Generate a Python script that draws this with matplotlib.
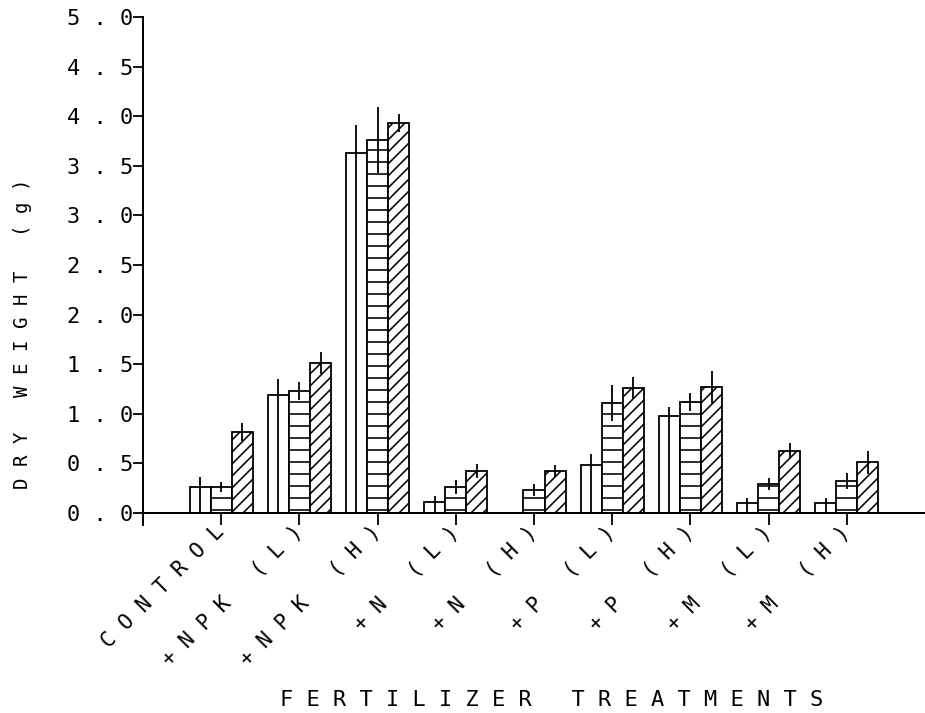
import numpy as np
import matplotlib
matplotlib.use("Agg")
import matplotlib.pyplot as plt

categories = ["CONTROL", "+NPK (L)", "+NPK (H)", "+N (L)", "+N (H)",
              "+P (L)", "+P (H)", "+M (L)", "+M (H)"]
open_vals = [0.26, 1.19, 3.63, 0.11, 0.0, 0.48, 0.98, 0.10, 0.10]
open_err = [0.10, 0.16, 0.28, 0.06, 0.0, 0.12, 0.09, 0.05, 0.05]
horiz_vals = [0.26, 1.23, 3.76, 0.26, 0.23, 1.11, 1.12, 0.29, 0.32]
horiz_err = [0.05, 0.09, 0.33, 0.07, 0.06, 0.18, 0.09, 0.06, 0.08]
diag_vals = [0.82, 1.51, 3.93, 0.42, 0.42, 1.26, 1.27, 0.63, 0.51]
diag_err = [0.09, 0.11, 0.09, 0.07, 0.06, 0.11, 0.16, 0.08, 0.12]
yticks = [0.0, 0.5, 1.0, 1.5, 2.0, 2.5, 3.0, 3.5, 4.0, 4.5, 5.0]
xlabel = "FERTILIZER TREATMENTS"
ylabel = "DRY WEIGHT (g)"


def spaced(s):
    return " ".join(s)


plt.rcParams["hatch.linewidth"] = 1.6
plt.rcParams["hatch.color"] = "black"
MONO = "DejaVu Sans Mono"

DPI = 72
fig = plt.figure(figsize=(925 / DPI, 713 / DPI), dpi=DPI)
ax = fig.add_axes([143 / 925, 188 / 713, 782 / 925, 508 / 713])

x = np.arange(len(categories))
w = 0.27
lw = 1.8

ax.bar(x - w, open_vals, w, facecolor="white", edgecolor="black", linewidth=lw, zorder=2)
ax.bar(x, horiz_vals, w, facecolor="white", edgecolor="black", linewidth=lw,
       hatch="-", zorder=2)
ax.bar(x + w, diag_vals, w, facecolor="white", edgecolor="black", linewidth=lw,
       hatch="//", zorder=2)

ov = np.array(open_vals)
oe = np.array(open_err)
ax.errorbar(x - w, ov, yerr=[ov, oe], fmt="none", ecolor="black",
            elinewidth=1.8, capsize=0, zorder=3)
ax.errorbar(x, horiz_vals, yerr=horiz_err, fmt="none", ecolor="black",
            elinewidth=1.8, capsize=0, zorder=3)
ax.errorbar(x + w, diag_vals, yerr=diag_err, fmt="none", ecolor="black",
            elinewidth=1.8, capsize=0, zorder=3)

ax.set_xlim(-1, 9)
ax.set_ylim(-0.12, 5.0)

for s in ["top", "right"]:
    ax.spines[s].set_visible(False)
ax.spines["bottom"].set_position(("data", 0))
ax.spines["bottom"].set_linewidth(2)
ax.spines["left"].set_linewidth(2)

ax.set_yticks(yticks)
ax.set_yticklabels([spaced(f"{v:.1f}") for v in yticks], family=MONO, fontsize=22)
ax.tick_params(axis="y", direction="out", length=10, width=1.8, pad=0)

ax.set_xticks(x)
ax.set_xticklabels([spaced(c) for c in categories], family=MONO, fontsize=21,
                   rotation=45, ha="right", va="center", rotation_mode="anchor")
ax.tick_params(axis="x", direction="out", length=12, width=1.8, pad=4)

ax.set_ylabel(spaced(ylabel), family=MONO, fontsize=19)
ax.yaxis.set_label_coords(-0.142, 0.376)
ax.set_xlabel(spaced(xlabel), family=MONO, fontsize=22)
ax.xaxis.set_label_coords(0.523, -0.325)

fig.savefig("out.png", dpi=DPI)
